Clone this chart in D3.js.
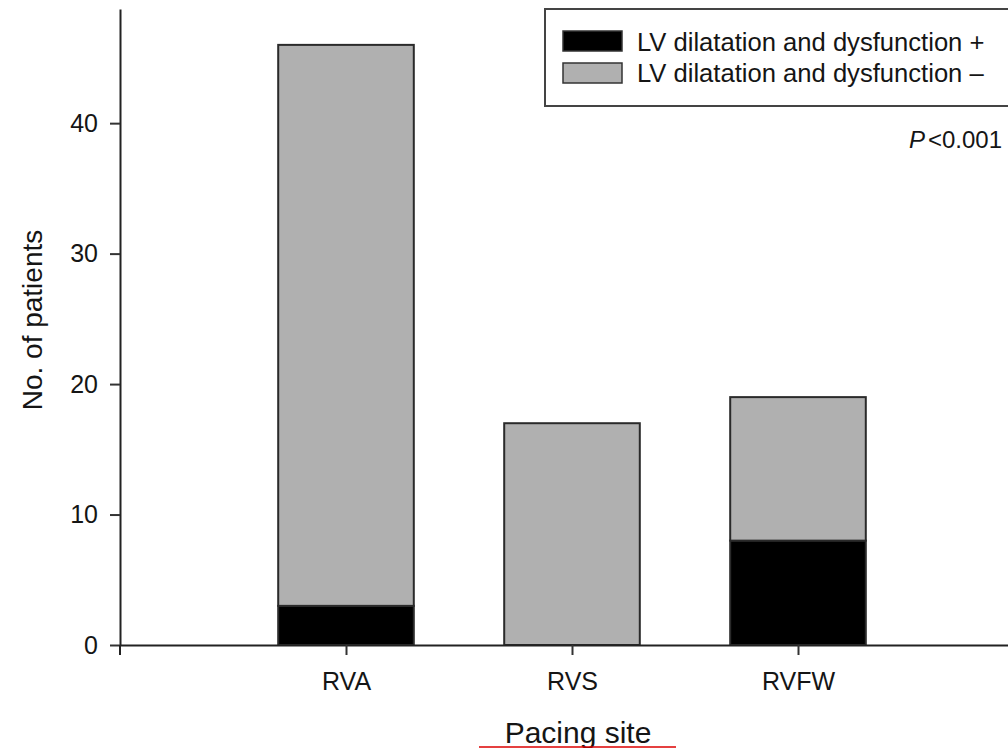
<!DOCTYPE html>
<html>
<head>
<script src="https://d3js.org/d3.v7.min.js"></script>
<style>
  body { margin: 0; background: #fff; }
  text { font-family: "Liberation Sans", Arial, sans-serif; fill: #151515; }
</style>
</head>
<body>
<div id="chart"></div>
<script>
// data
const sites = ["RVA", "RVS", "RVFW"];
const lvPositive = [3, 0, 8];
const lvNegative = [43, 17, 11];
const yTicks = [0, 10, 20, 30, 40];
const seriesNames = ["LV dilatation and dysfunction +", "LV dilatation and dysfunction \u2013"];
const seriesColors = ["#000000", "#b0b0b0"];

const width = 1008, height = 748;
const svg = d3.select("#chart").append("svg")
  .attr("width", width).attr("height", height);

// x is a position scale: category i sits at i+1, axis runs 0..4
const x = d3.scaleLinear().domain([0, 4]).range([120, 1024]);
const y = d3.scaleLinear().domain([0, 48.75]).range([645, 9]);
const barW = x(0.6) - x(0);

const rows = sites.map((s, i) => ({ site: s, idx: i, pos: lvPositive[i], neg: lvNegative[i] }));
const stacked = d3.stack().keys(["pos", "neg"])(rows);

// bars
svg.selectAll("g.layer").data(stacked).join("g")
  .attr("class", "layer")
  .attr("fill", (d, i) => seriesColors[i])
  .selectAll("rect").data(d => d.filter(p => p[1] > p[0])).join("rect")
  .attr("x", d => x(d.data.idx + 1) - barW / 2)
  .attr("width", barW)
  .attr("y", d => y(d[1]))
  .attr("height", d => y(d[0]) - y(d[1]))
  .attr("stroke", "#2a2a2a")
  .attr("stroke-width", 2);

// x axis
const xAxis = svg.append("g")
  .attr("transform", `translate(0,${y(0)})`)
  .call(d3.axisBottom(x)
    .tickValues(sites.map((s, i) => i + 1))
    .tickFormat(v => sites[v - 1])
    .tickSize(10).tickPadding(17).tickSizeOuter(0));
xAxis.select(".domain").attr("stroke", "#222").attr("stroke-width", 2);
xAxis.selectAll(".tick line").attr("stroke", "#333").attr("stroke-width", 2);
xAxis.selectAll(".tick text").style("font-size", "25px")
  .style("font-family", "Liberation Sans, Arial, sans-serif").attr("fill", "#151515");

// y axis
const yAxis = svg.append("g")
  .attr("transform", `translate(${x(0)},0)`)
  .call(d3.axisLeft(y).tickValues(yTicks).tickSize(10).tickPadding(12).tickSizeOuter(0));
yAxis.select(".domain").attr("stroke", "#222").attr("stroke-width", 2);
yAxis.selectAll(".tick line").attr("stroke", "#333").attr("stroke-width", 2);
yAxis.selectAll(".tick text").style("font-size", "25px")
  .style("font-family", "Liberation Sans, Arial, sans-serif").attr("fill", "#151515");
// small stub of the y axis below the origin
svg.append("line")
  .attr("x1", x(0)).attr("x2", x(0))
  .attr("y1", y(0)).attr("y2", y(0) + 10)
  .attr("stroke", "#222").attr("stroke-width", 2);

// axis titles
svg.append("text")
  .attr("transform", "translate(42,320) rotate(-90)")
  .attr("text-anchor", "middle")
  .style("font-size", "28px")
  .text("No. of patients");

svg.append("text")
  .attr("x", 578).attr("y", 743)
  .attr("text-anchor", "middle")
  .style("font-size", "30px")
  .text("Pacing site");

svg.append("line")
  .attr("x1", 479).attr("x2", 676)
  .attr("y1", 747).attr("y2", 747)
  .attr("stroke", "#d00").attr("stroke-width", 1.5);

// legend
const legend = svg.append("g");
legend.append("rect")
  .attr("x", 545).attr("y", 9)
  .attr("width", 480).attr("height", 97)
  .attr("fill", "#fff").attr("stroke", "#444").attr("stroke-width", 2);
seriesNames.forEach((name, i) => {
  legend.append("rect")
    .attr("x", 563).attr("y", 31 + i * 32)
    .attr("width", 59).attr("height", 20)
    .attr("fill", seriesColors[i])
    .attr("stroke", "#333").attr("stroke-width", 1.5);
  legend.append("text")
    .attr("x", 637).attr("y", 51 + i * 31)
    .style("font-size", "25.6px")
    .text(name);
});

// p value
const pText = svg.append("text")
  .attr("x", 1002).attr("y", 148)
  .attr("text-anchor", "end")
  .style("font-size", "24px");
pText.append("tspan").style("font-style", "italic").text("P");
pText.append("tspan").attr("dx", 3).text("<0.001");
</script>
</body>
</html>
